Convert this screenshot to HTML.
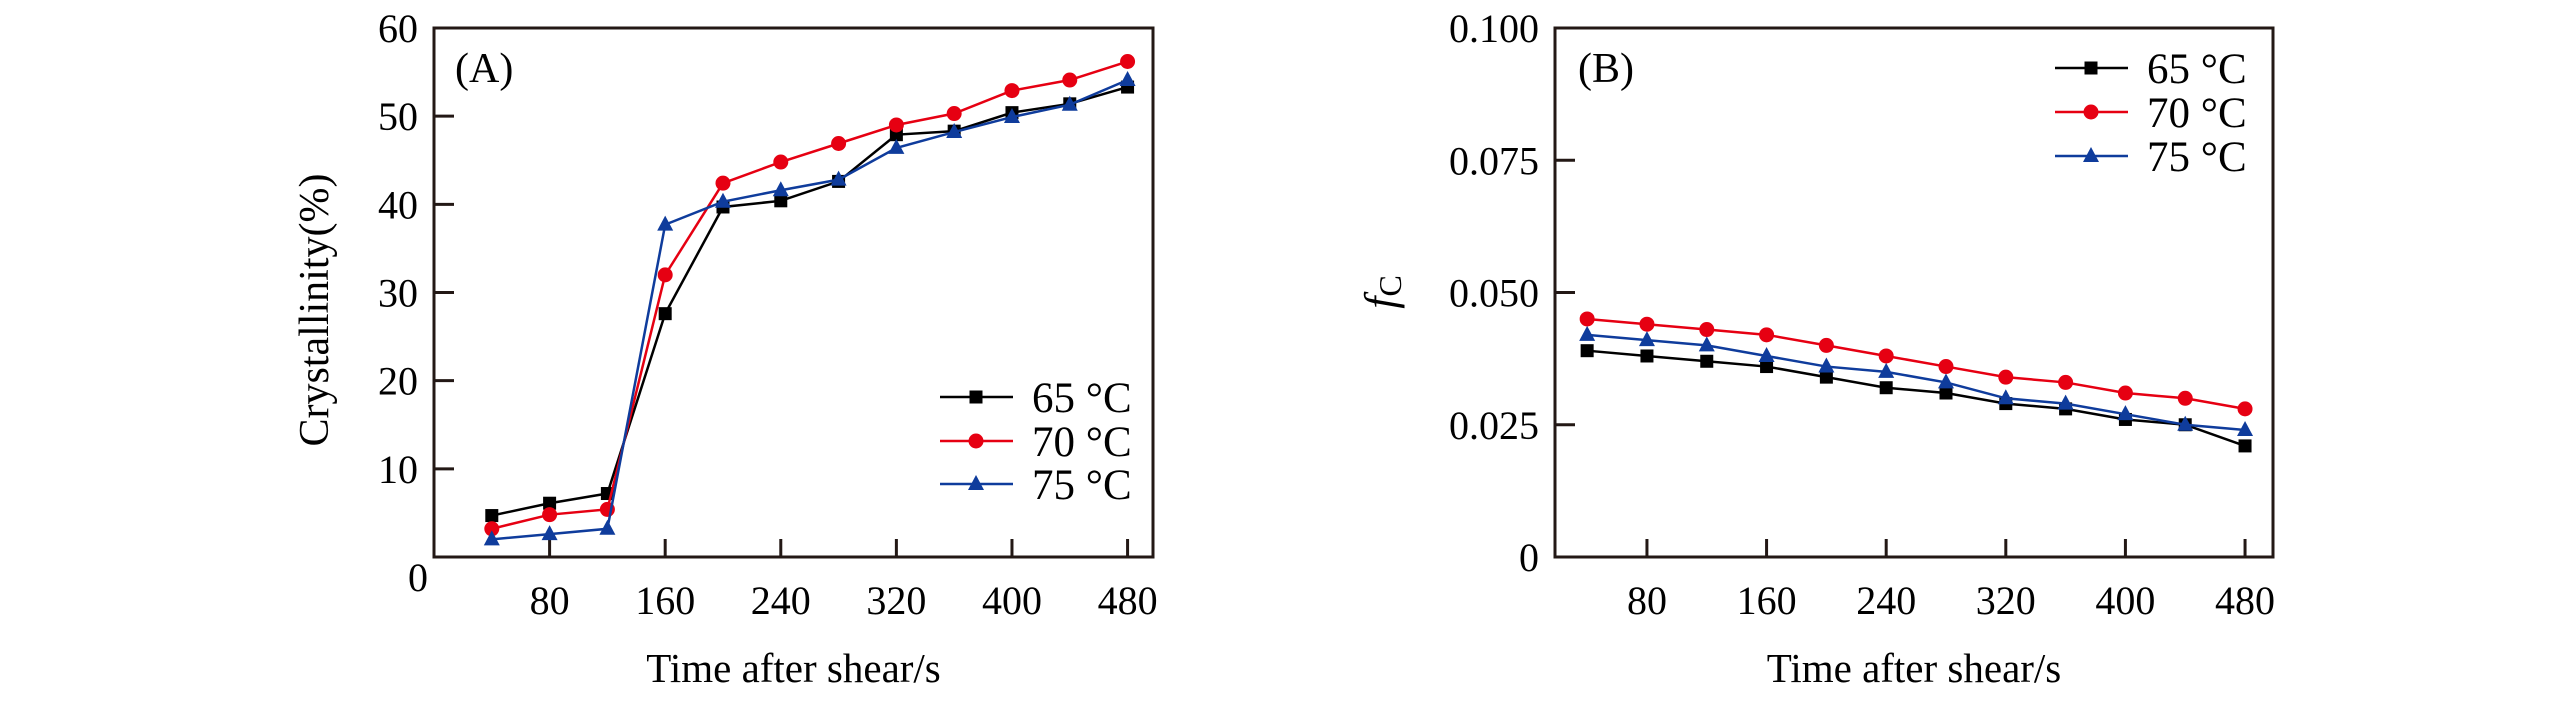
<!DOCTYPE html>
<html><head><meta charset="utf-8"><style>
html,body{margin:0;padding:0;background:#fff;width:2567px;height:709px;overflow:hidden}
svg{font-family:"Liberation Serif",serif}
</style></head><body>
<svg id="c" width="2567" height="709" viewBox="0 0 2567 709"></svg>
<script>
const times=[40,80,120,160,200,240,280,320,360,400,440,480];
const seriesNames=["65 °C","70 °C","75 °C"];
const crystA65=[4.7,6.1,7.2,27.6,39.7,40.4,42.6,47.9,48.3,50.4,51.4,53.3];
const crystA70=[3.2,4.8,5.4,32.0,42.4,44.8,46.9,49.0,50.3,52.9,54.1,56.2];
const crystA75=[2.0,2.6,3.2,37.7,40.3,41.6,42.8,46.4,48.2,49.9,51.3,54.1];
const fcB65=[0.039,0.038,0.037,0.036,0.034,0.032,0.031,0.029,0.028,0.026,0.025,0.021];
const fcB70=[0.045,0.044,0.043,0.042,0.040,0.038,0.036,0.034,0.033,0.031,0.030,0.028];
const fcB75=[0.042,0.041,0.040,0.038,0.036,0.035,0.033,0.030,0.029,0.027,0.025,0.024];
const xTicks=[80,160,240,320,400,480];
const yTicksA=[0,10,20,30,40,50,60];
const yTickLabelsA=["0","10","20","30","40","50","60"];
const yTicksB=[0,0.025,0.05,0.075,0.1];
const yTickLabelsB=["0","0.025","0.050","0.075","0.100"];
const colors=["#000000","#e60012","#0f3c9c"];
const shapes=["square","circle","triangle"];
const NS="http://www.w3.org/2000/svg";
const svg=document.getElementById('c');
function mk(tag,attrs,parent){const e=document.createElementNS(NS,tag);for(const k in attrs)e.setAttribute(k,attrs[k]);(parent||svg).appendChild(e);return e;}
function marker(g,shape,x,y,col){
  let e;
  if(shape==="square")e=mk('rect',{x:x-6.5,y:y-6.5,width:13,height:13,fill:col},g);
  else if(shape==="circle")e=mk('circle',{cx:x,cy:y,r:7.5,fill:col},g);
  else e=mk('polygon',{points:`${x},${y-9} ${x+8},${y+6} ${x-8},${y+6}`,fill:col},g);
  
  
}
function panel(cfg){
  const g=mk('g',{});
  
  
  const L=cfg.left,R=cfg.right,T=28,B=557;
  const xs=v=>L+(v-cfg.xmin)/(cfg.xmax-cfg.xmin)*(R-L);
  const ys=v=>B-(v-cfg.ymin)/(cfg.ymax-cfg.ymin)*(B-T);
  const fr=mk('rect',{x:L,y:T,width:R-L,height:B-T,fill:'none',stroke:'#231815','stroke-width':3},g);
  
  xTicks.forEach(v=>{
    const t=mk('line',{x1:xs(v),x2:xs(v),y1:B,y2:B-18,stroke:'#231815','stroke-width':3},g);
    
    const l=mk('text',{x:xs(v),y:614,'text-anchor':'middle','font-size':40},g);l.textContent=v;
    
  });
  cfg.yt.forEach((v,i)=>{
    if(i>0&&i<cfg.yt.length-1){
      const t=mk('line',{x1:L,x2:L+20,y1:ys(v),y2:ys(v),stroke:'#231815','stroke-width':3},g);
      
    }
    let y=ys(v)+14,x=L-16;
    if(i===0&&cfg.zeroCorner){y=B+34;x=L-6;}
    const l=mk('text',{x:x,y:y,'text-anchor':'end','font-size':40},g);l.textContent=cfg.yl[i];
    
  });
  cfg.series.forEach((s,k)=>{
    const sg=mk('g',{},g);
    
    
    const pts=times.map((t,i)=>xs(t)+','+ys(s[i])).join(' ');
    const pl=mk('polyline',{points:pts,fill:'none',stroke:colors[k],'stroke-width':2.5},sg);
    
    times.forEach((t,i)=>marker(sg,shapes[k],xs(t),ys(s[i]),colors[k]));
    const lg=mk('g',{},g);
    
    const ly=cfg.legY[k];
    mk('line',{x1:cfg.legX,x2:cfg.legX+73,y1:ly,y2:ly,stroke:colors[k],'stroke-width':2.5},lg);
    marker(lg,shapes[k],cfg.legX+36,ly,colors[k]);
    const lt=mk('text',{x:cfg.legX+92,y:ly+15,'font-size':43},lg);lt.textContent=seriesNames[k];
  });
  const pl=mk('text',{x:cfg.labX,y:82,'font-size':42},g);pl.textContent=cfg.label;
  
  const xt=mk('text',{x:(L+R)/2,y:682,'text-anchor':'middle','font-size':41},g);xt.textContent="Time after shear/s";
  
  return {g,ys};
}
panel({name:'panel-a-crystallinity',left:434,right:1153,xmin:0,xmax:497.6,ymin:0,ymax:60,yt:yTicksA,yl:yTickLabelsA,zeroCorner:true,
  series:[crystA65,crystA70,crystA75],legX:940,legY:[397,441,484],labX:455,label:"(A)"});
panel({name:'panel-b-fc',left:1555,right:2273,xmin:18.5,xmax:498.7,ymin:0,ymax:0.1,yt:yTicksB,yl:yTickLabelsB,zeroCorner:false,
  series:[fcB65,fcB70,fcB75],legX:2055,legY:[68,112,156],labX:1578,label:"(B)"});
const ya=mk('text',{x:0,y:0,'text-anchor':'middle','font-size':42,transform:'translate(328,310) rotate(-90)'});
ya.textContent="Crystallinity(%)";

const yb=mk('text',{x:0,y:0,'text-anchor':'middle','font-size':44,transform:'translate(1395,292) rotate(-90)'});

const f=mk('tspan',{'font-style':'italic'},yb);f.textContent="f";
const cc=mk('tspan',{'font-size':32,dy:6},yb);cc.textContent="C";
</script>
</body></html>
